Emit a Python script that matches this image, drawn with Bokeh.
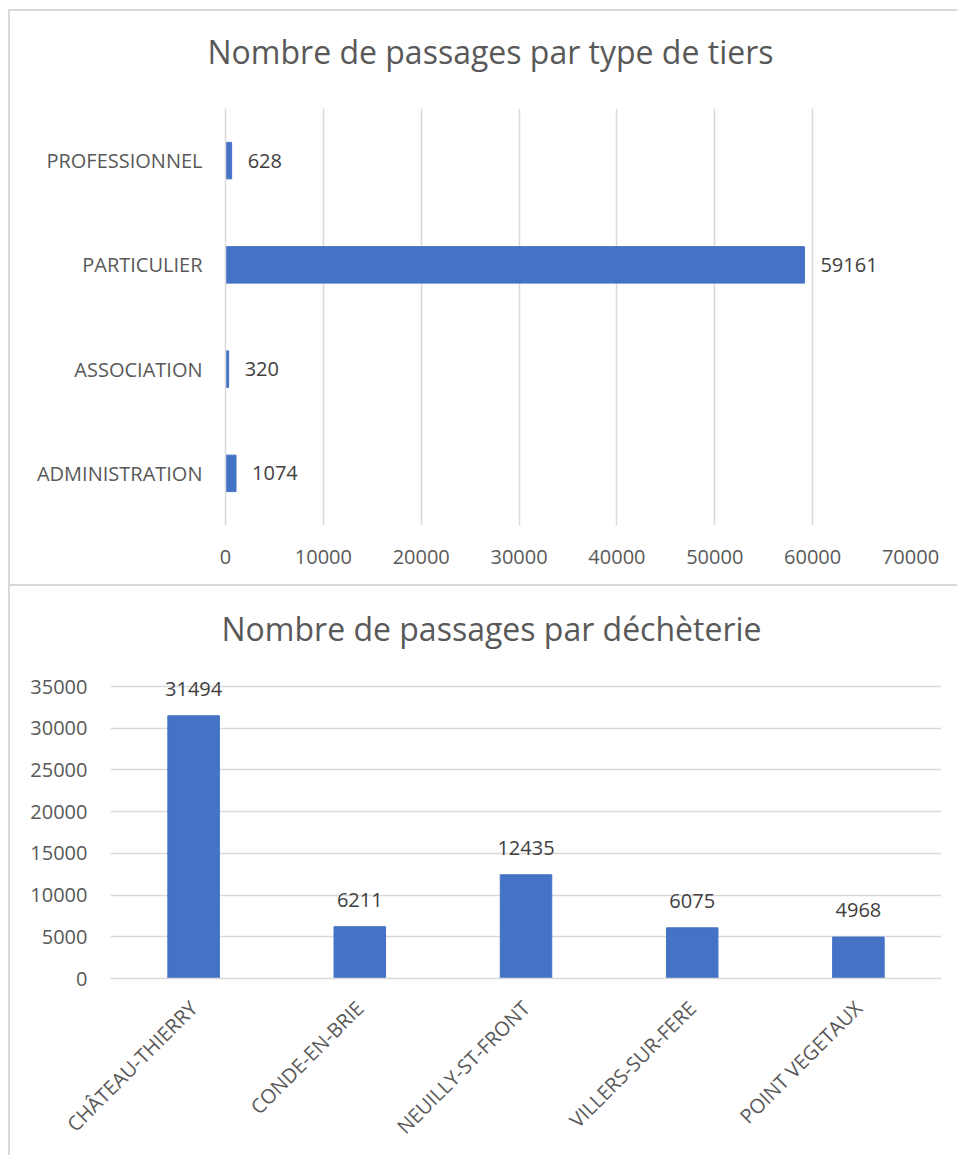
import math
from bokeh.plotting import figure
from bokeh.models import ColumnDataSource, FactorRange, Range1d, FixedTicker, Title
from bokeh.core.properties import value
from bokeh.embed import file_html
from bokeh.resources import INLINE

# ---- data ----
tiers = ["ADMINISTRATION", "ASSOCIATION", "PARTICULIER", "PROFESSIONNEL"]
tiers_values = [1074, 320, 59161, 628]
x_ticks_top = [0, 10000, 20000, 30000, 40000, 50000, 60000, 70000]

decheteries = ["CHÂTEAU-THIERRY", "CONDE-EN-BRIE", "NEUILLY-ST-FRONT", "VILLERS-SUR-FERE", "POINT VEGETAUX"]
decheteries_values = [31494, 6211, 12435, 6075, 4968]
y_ticks_bottom = [0, 5000, 10000, 15000, 20000, 25000, 30000, 35000]

FONT = "Open Sans"
BAR = "#4472C4"
GRID = "#D9D9D9"
TXT = "#595959"
LBL = "#404040"
FRAME = "#D9D9D9"

g = f"linear-gradient({FRAME}, {FRAME})"
top_bg = (f"{g} 8px 9px / 2px calc(100% - 9px) no-repeat, "
          f"{g} 8px 9px / calc(100% - 8px) 2px no-repeat, "
          f"{g} 8px 584px / calc(100% - 8px) 2px no-repeat, white")
bottom_bg = f"{g} 8px 0px / 2px 100% no-repeat, white"

# ---- top chart ----
src1 = ColumnDataSource(dict(cat=tiers, val=tiers_values, lab=[str(v) for v in tiers_values]))
p1 = figure(width=957, height=586, y_range=FactorRange(*tiers), x_range=Range1d(0, 70000),
            output_backend="svg", toolbar_location=None,
            min_border_left=225, min_border_right=47, min_border_top=108, min_border_bottom=61,
            border_fill_color=None, background_fill_color="white",
            styles={"background": top_bg})
# spacer panel between the title and the plot area
p1.add_layout(Title(text=" ", text_font=FONT, text_font_size="10px", standoff=15), "above")
p1.add_layout(Title(text="Nombre de passages par type de tiers", align="left",
                    text_font=FONT, text_font_size="32px", text_font_style="normal",
                    text_color=TXT, standoff=10, offset=-18), "above")
p1.hbar(y="cat", right="val", left=0, height=0.35, source=src1, color=BAR)
p1.text(x="val", y="cat", text="lab", source=src1, x_offset=16, text_align="left",
        text_baseline="middle", text_font=value(FONT), text_font_size="20px", text_color=LBL)
p1.xaxis.ticker = FixedTicker(ticks=x_ticks_top)
p1.xgrid.ticker = FixedTicker(ticks=x_ticks_top)
p1.xgrid.grid_line_color = GRID
p1.xgrid.grid_line_width = 1.5
p1.ygrid.grid_line_color = None
for ax in (p1.xaxis, p1.yaxis):
    ax.major_tick_line_color = None
    ax.minor_tick_line_color = None
    ax.major_label_text_font = FONT
    ax.major_label_text_font_size = "20px"
    ax.major_label_text_color = TXT
p1.xaxis.axis_line_color = None
p1.xaxis.major_label_standoff = 18
p1.yaxis.axis_line_color = GRID
p1.yaxis.axis_line_width = 1.5
p1.yaxis.major_label_standoff = 17
p1.outline_line_color = None

# ---- bottom chart ----
src2 = ColumnDataSource(dict(cat=decheteries, val=decheteries_values, lab=[str(v) for v in decheteries_values]))
p2 = figure(width=957, height=569, x_range=FactorRange(*decheteries), y_range=Range1d(0, 38000),
            output_backend="svg", toolbar_location=None,
            min_border_left=110, min_border_right=16, min_border_top=75, min_border_bottom=177,
            border_fill_color=None, background_fill_color="white",
            styles={"background": bottom_bg})
p2.add_layout(Title(text="Nombre de passages par déchèterie", align="left",
                    text_font=FONT, text_font_size="32px", text_font_style="normal",
                    text_color=TXT, standoff=24, offset=111), "above")
p2.vbar(x="cat", top="val", bottom=0, width=0.31, source=src2, color=BAR)
p2.text(x="cat", y="val", text="lab", source=src2, y_offset=-20, text_align="center",
        text_baseline="bottom", text_font=value(FONT), text_font_size="20px", text_color=LBL)
p2.yaxis.ticker = FixedTicker(ticks=y_ticks_bottom)
p2.ygrid.ticker = FixedTicker(ticks=y_ticks_bottom)
p2.ygrid.grid_line_color = GRID
p2.ygrid.grid_line_width = 1.5
p2.xgrid.grid_line_color = None
for ax in (p2.xaxis, p2.yaxis):
    ax.major_tick_line_color = None
    ax.minor_tick_line_color = None
    ax.major_label_text_font = FONT
    ax.major_label_text_font_size = "20px"
    ax.major_label_text_color = TXT
p2.yaxis.axis_line_color = None
p2.yaxis.major_label_standoff = 17
p2.xaxis.axis_line_color = GRID
p2.xaxis.axis_line_width = 1.5
p2.xaxis.major_label_orientation = math.pi / 4
p2.xaxis.major_label_standoff = 20
p2.outline_line_color = None

open("out.html", "w").write(file_html([p1, p2], INLINE))
